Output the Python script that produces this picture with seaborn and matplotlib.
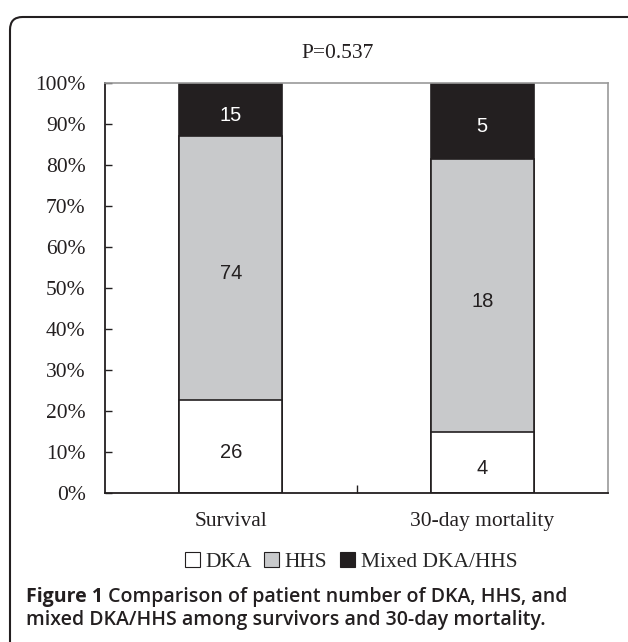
import matplotlib
matplotlib.use("Agg")
import matplotlib.pyplot as plt
from matplotlib.patches import FancyBboxPatch, Patch
from matplotlib.ticker import FixedLocator
import seaborn as sns
import pandas as pd
import numpy as np

# данные
groups = ["Survival", "30-day mortality"]
dka = [26, 4]
hhs = [74, 18]
mixed = [15, 5]
series_names = ["DKA", "HHS", "Mixed DKA/HHS"]
colors = {"DKA": "#ffffff", "HHS": "#c8c9cb", "Mixed DKA/HHS": "#231f20"}
p_text = "P=0.537"
caption_bold = "Figure 1"
caption_rest1 = " Comparison of patient number of DKA, HHS, and"
caption_line2 = "mixed DKA/HHS among survivors and 30-day mortality."

sns.set_theme(style="white")
plt.rcParams['font.family'] = ['Liberation Serif', 'DejaVu Serif']

df = pd.DataFrame({"group": groups, "DKA": dka, "HHS": hhs, "Mixed DKA/HHS": mixed})
total = df[series_names].sum(axis=1)
df["p_dka"] = df["DKA"] / total * 100
df["p_hhs"] = (df["DKA"] + df["HHS"]) / total * 100
df["p_all"] = 100.0

fig = plt.figure(figsize=(6.28, 6.42), dpi=100)
W, H = 628, 642
serif_fs = 15.5

# рамка
frame = FancyBboxPatch((10 / W, -0.1), 1.2, (642 - 17) / H + 0.1,
                       boxstyle="round,pad=0,rounding_size=0.02",
                       transform=fig.transFigure, facecolor="white",
                       edgecolor="#231f20", linewidth=1.5, zorder=-1)
fig.patches.append(frame)

ax = fig.add_axes([105 / W, 1 - 493 / H, (608 - 105) / W, (493 - 83) / H])
ax.set_facecolor("none")
ax.set_zorder(1)

edge = "#231f20"
bw = 0.41
# слоями: сначала полная высота, потом поверх меньшие
sns.barplot(data=df, x="group", y="p_all", color=colors["Mixed DKA/HHS"], width=bw,
            edgecolor=edge, linewidth=1.2, saturation=1, ax=ax)
sns.barplot(data=df, x="group", y="p_hhs", color=colors["HHS"], width=bw,
            edgecolor=edge, linewidth=1.2, saturation=1, ax=ax)
sns.barplot(data=df, x="group", y="p_dka", color=colors["DKA"], width=bw,
            edgecolor=edge, linewidth=1.2, saturation=1, ax=ax)

# подписи в столбцах
for i, row in df.iterrows():
    mids = [row["p_dka"] / 2, (row["p_dka"] + row["p_hhs"]) / 2, (row["p_hhs"] + 100) / 2]
    vals = [row["DKA"], row["HHS"], row["Mixed DKA/HHS"]]
    tcols = ["#231f20", "#231f20", "white"]
    for m, v, c in zip(mids, vals, tcols):
        ax.annotate(str(v), (i, m), xytext=(0, -4), textcoords="offset points",
                    ha="center", va="center", fontsize=14.5,
                    family="Liberation Sans", color=c)

ax.set_xlim(-0.5, 1.5)
ax.set_ylim(0, 100)
ax.set_yticks(np.arange(0, 101, 10))
ax.set_yticklabels([f"{v}%" for v in range(0, 101, 10)], fontsize=serif_fs, color="#231f20")
ax.set_xticks([0, 1])
ax.set_xticklabels(groups, fontsize=serif_fs, color="#231f20")
ax.xaxis.set_minor_locator(FixedLocator([0.5]))
ax.tick_params(axis="y", direction="in", length=5, width=1, color=edge, pad=14, left=True)
ax.tick_params(axis="x", which="major", length=0, pad=14)
ax.tick_params(axis="x", which="minor", direction="in", length=6, width=1, color=edge, bottom=True)
ax.set_xlabel("")
ax.set_ylabel("")
for s in ["left", "bottom"]:
    ax.spines[s].set_color(edge)
    ax.spines[s].set_linewidth(1.3)
for s in ["top", "right"]:
    ax.spines[s].set_color("#9a9a9a")
    ax.spines[s].set_linewidth(1.2)

fig.text(338 / W, 1 - 53 / H, p_text, ha="center", va="center", fontsize=serif_fs, color="#231f20")

# легенда
handles = [Patch(facecolor=colors[n], edgecolor=edge, linewidth=0.8, label=n) for n in series_names]
fig.legend(handles=handles, loc="center", bbox_to_anchor=(351 / W, 1 - 562 / H), ncol=3,
           frameon=False, fontsize=serif_fs, handlelength=0.7, handleheight=0.7,
           handletextpad=0.25, columnspacing=0.6, borderpad=0)

# подпись рисунка
cap_fs = 14
t1 = fig.text(26 / W, 1 - 597 / H, caption_bold, ha="left", va="center", fontsize=cap_fs,
              family="Open Sans", weight="bold", color="#231f20")
fig.canvas.draw()
bb = t1.get_window_extent()
fig.text(bb.x1 / W, 1 - 597 / H, caption_rest1, ha="left", va="center", fontsize=cap_fs,
         family="Open Sans", weight="semibold", color="#231f20")
fig.text(26 / W, 1 - 620 / H, caption_line2, ha="left", va="center", fontsize=cap_fs,
         family="Open Sans", weight="semibold", color="#231f20")

fig.savefig("out.png", dpi=100)
